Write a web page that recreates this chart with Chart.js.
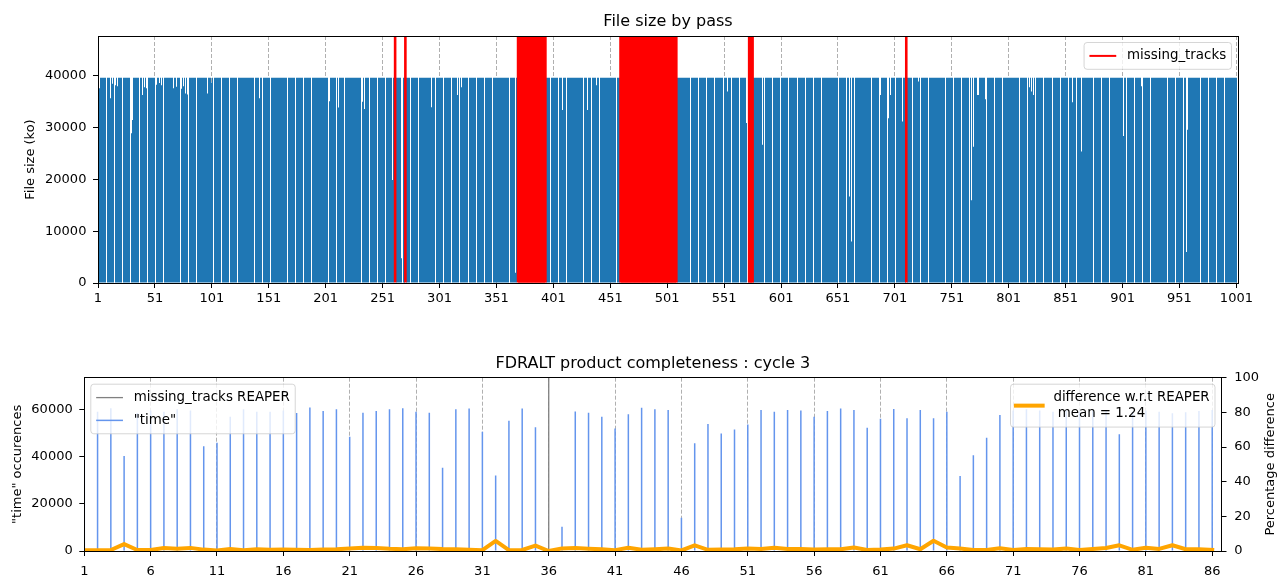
<!DOCTYPE html>
<html lang="en">
<head>
<meta charset="UTF-8">
<title>FDRALT file size and completeness</title>
<style>
    body { margin: 0; background: #fff; }
    #wrap { position: relative; width: 1287px; height: 577px; }
    canvas { position: absolute; left: 0; }
    #sizeChart { top: 0; }
    #compChart { top: 330px; }
</style>
</head>
<body>
<div id="wrap">
    <canvas id="sizeChart" width="1287" height="320"></canvas>
    <canvas id="compChart" width="1287" height="247"></canvas>
</div>

<script src="https://cdn.jsdelivr.net/npm/chart.js"></script>
<script>
// ---------- File size by pass ----------
const passCount = 1001;
const fullSize = 39650;           // ko, size of a complete pass file
const dipPasses = [2, 12, 14, 16, 18, 30, 31, 40, 42, 44, 52, 55, 57, 67, 70, 74, 76, 78, 80, 97,
    101, 143, 204, 212, 233, 235, 260, 268, 294, 317, 320, 368, 409, 431, 439, 554, 571, 585, 661, 663,
    688, 695, 697, 708, 722, 768, 770, 774, 781, 819, 821, 823, 857, 865, 902, 918, 957, 958];
const dipSizes = [37600, 35700, 38500, 38200, 38000, 28900, 31500, 36300, 37800, 37600, 38300, 38600, 38200, 37600, 37900, 37500, 38000, 36600, 36400, 36600,
    38700, 35700, 35100, 33900, 35000, 33600, 19900, 4800, 33950, 36300, 37800, 2000, 33400, 33400, 38200, 37000, 30900, 26700, 16700, 8000,
    36300, 31800, 36300, 31200, 38900, 16000, 26300, 36300, 35500, 37800, 37000, 36300, 34900, 25400, 28400, 38000, 6000, 29600];
const missingStart = [262, 271, 370, 460, 573, 711];
const missingEnd = [262, 271, 394, 509, 576, 711];
const passTicks = [1, 51, 101, 151, 201, 251, 301, 351, 401, 451, 501, 551, 601, 651, 701, 751, 801, 851, 901, 951, 1001];
const sizeTicks = [0, 10000, 20000, 30000, 40000];
const sizeMax = 47700;

// ---------- FDRALT completeness, cycle 3 ----------
const timeCounts = [
    59000, 59000, 60500, 40200, 58500, 59500, 59000, 60000, 59500, 44400,
    45800, 56900, 60000, 59000, 59000, 59500, 58500, 60800, 59300, 60000,
    48400, 58600, 59300, 60000, 60500, 59000, 58600, 35300, 60000, 60400,
    50500, 32000, 55200, 60400, 52400, 0, 10300, 59100, 58600, 56900,
    51900, 57900, 60700, 60000, 59700, 14100, 45600, 53800, 49800, 51500,
    53600, 59700, 59000, 59700, 59500, 56900, 59300, 60400, 59700, 52200,
    56000, 60100, 56200, 59700, 56200, 59000, 31800, 40600, 48000, 57600,
    59500, 60000, 59500, 59000, 59500, 59000, 59500, 59500, 49400, 59000,
    59500, 59000, 58300, 58800, 59300, 59700];
const percentDiff = [
    0.4, 0.5, 0.6, 4.0, 0.6, 0.6, 1.7, 1.3, 1.8, 0.8,
    0.3, 1.2, 0.5, 1.0, 0.7, 0.9, 0.7, 0.6, 0.9, 1.0,
    1.4, 1.9, 1.8, 1.3, 1.0, 1.6, 1.4, 1.1, 1.0, 0.7,
    0.5, 5.8, 0.5, 0.6, 3.1, 0.0, 1.5, 1.7, 1.3, 1.0,
    0.5, 1.9, 0.7, 1.0, 1.4, 0.3, 3.3, 0.7, 0.9, 1.0,
    1.4, 1.2, 1.9, 1.2, 1.1, 0.8, 1.0, 1.0, 2.0, 0.6,
    0.8, 1.4, 3.3, 1.0, 5.9, 2.0, 1.4, 0.6, 0.6, 1.6,
    0.6, 1.1, 1.0, 0.8, 1.4, 0.6, 1.2, 1.7, 3.3, 0.7,
    1.9, 1.2, 3.3, 1.0, 1.0, 0.6];
const cycles = timeCounts.map((v, i) => i + 1);
const reaperMissing = [36];
const cycleTicks = [1, 6, 11, 16, 21, 26, 31, 36, 41, 46, 51, 56, 61, 66, 71, 76, 81, 86];
const timeTicks = [0, 20000, 40000, 60000];
const diffTicks = [0, 20, 40, 60, 80, 100];
const timeMax = 73400;

Chart.defaults.font.family = "'DejaVu Sans', sans-serif";
Chart.defaults.font.size = 13;
Chart.defaults.color = '#000';

// one pixel per bar column, like a raster plot of 1000 thin bars
const snapBars = {
    id: 'snapBars',
    beforeDatasetsDraw(chart, args, opts) {
        const meta = chart.getDatasetMeta(opts.datasetIndex);
        meta.data.forEach(bar => {
            const l = Math.round(bar.x - bar.width / 2);
            const r = Math.round(bar.x + bar.width / 2);
            bar.x = (l + r) / 2;
            bar.width = r - l;
        });
    }
};

function drawLegendBox(chart, box) {
    const { ctx, chartArea: a } = chart;
    const fs = 13.4, pad = 0.4 * fs, handle = 2 * fs, textPad = 0.8 * fs, gap = 0.5 * fs, lineH = 1.2 * fs, axPad = 6.5;
    const items = box.items.map(it => {
        const ds = chart.data.datasets[it.index];
        return { lines: ds.label.split('\n'), color: ds.borderColor || ds.backgroundColor, width: it.width };
    });
    ctx.save();
    ctx.font = fs + "px 'DejaVu Sans'";
    let textW = 0, h = 2 * pad;
    items.forEach((it, i) => {
        it.lines.forEach(s => { textW = Math.max(textW, ctx.measureText(s).width); });
        h += it.lines.length * lineH + (i ? gap : 0);
    });
    const w = pad + handle + textPad + textW + pad;
    const x0 = box.align === 'left' ? a.left + axPad : a.right - axPad - w;
    const y0 = a.top + axPad;
    ctx.beginPath();
    ctx.roundRect(x0, y0, w, h, 3);
    ctx.fillStyle = 'rgba(255,255,255,0.8)';
    ctx.fill();
    ctx.strokeStyle = 'rgba(204,204,204,0.8)';
    ctx.lineWidth = 1;
    ctx.stroke();
    let y = y0 + pad;
    items.forEach(it => {
        const rowH = it.lines.length * lineH;
        const cy = y + rowH / 2;
        ctx.beginPath();
        ctx.moveTo(x0 + pad, cy);
        ctx.lineTo(x0 + pad + handle, cy);
        ctx.strokeStyle = it.color;
        ctx.lineWidth = it.width;
        ctx.lineCap = it.width > 2 ? 'square' : 'butt';
        ctx.stroke();
        ctx.fillStyle = '#000';
        ctx.textAlign = 'left';
        ctx.textBaseline = 'middle';
        it.lines.forEach((s, k) => ctx.fillText(s, x0 + pad + handle + textPad, y + lineH * (k + 0.5)));
        y += rowH + gap;
    });
    ctx.restore();
}

// axes frame (all four spines), legends and the right-hand axis title
const frameAndLegend = {
    id: 'frameAndLegend',
    afterDatasetsDraw(chart, args, opts) {
        const { ctx, chartArea: a } = chart;
        ctx.save();
        ctx.strokeStyle = '#000';
        ctx.lineWidth = 1;
        const l = Math.floor(a.left) + 0.5, t = Math.floor(a.top) + 0.5;
        const r = Math.floor(a.right) + 0.5, b = Math.floor(a.bottom) + 0.5;
        ctx.strokeRect(l, t, r - l, b - t);
        if (opts.rightTitle) {
            ctx.translate(chart.width - 16, (a.top + a.bottom) / 2);
            ctx.rotate(-Math.PI / 2);
            ctx.font = "13px 'DejaVu Sans'";
            ctx.fillStyle = '#000';
            ctx.textAlign = 'center';
            ctx.textBaseline = 'middle';
            ctx.fillText(opts.rightTitle, 0, 0);
        }
        ctx.restore();
        (opts.boxes || []).forEach(box => drawLegendBox(chart, box));
    }
};

const xGrid = { color: '#b0b0b0', lineWidth: 1, tickColor: '#000', tickLength: 5, tickWidth: 1, tickBorderDash: [], offset: false };
const yGrid = { drawOnChartArea: false, tickColor: '#000', tickLength: 5, tickWidth: 1 };
const setTicks = list => axis => { axis.ticks = list.map(v => ({ value: v })); };

// build the per-pass series
const sizeData = [];
const missingData = [];
for (let p = 1; p <= passCount; p++) {
    const missing = missingStart.some((s, k) => p >= s && p <= missingEnd[k]);
    const d = dipPasses.indexOf(p);
    sizeData.push({ x: p, y: missing ? null : (d >= 0 ? dipSizes[d] : fullSize) });
    if (missing) missingData.push({ x: p, y: sizeMax });
}

new Chart(document.getElementById('sizeChart'), {
    type: 'bar',
    data: {
        datasets: [{
            label: 'missing_tracks',
            data: missingData,
            backgroundColor: '#ff0000',
            borderColor: '#ff0000',
            barThickness: 2.6,
            inflateAmount: 0,
            grouped: false,
            order: 0
        }, {
            label: 'File size',
            data: sizeData,
            backgroundColor: '#1f77b4',
            barPercentage: 0.9,
            categoryPercentage: 1,
            inflateAmount: 0,
            grouped: false,
            order: 1
        }]
    },
    options: {
        responsive: false,
        animation: false,
        devicePixelRatio: 1,
        events: [],
        layout: { padding: { left: 0, right: 49, top: 0, bottom: 0 } },
        scales: {
            x: {
                type: 'linear', min: 1, max: 1002.4, offset: false,
                afterBuildTicks: setTicks(passTicks),
                afterFit: axis => { axis.height = 37; },
                grid: xGrid,
                border: { display: false, dash: [4, 2] },
                ticks: { autoSkip: false, maxRotation: 0, padding: 3, callback: v => String(v) }
            },
            y: {
                min: 0, max: sizeMax,
                afterBuildTicks: setTicks(sizeTicks),
                afterFit: axis => { axis.width = 98; },
                grid: yGrid,
                border: { display: false },
                ticks: { padding: 6.6, callback: v => String(v) },
                title: { display: true, text: 'File size (ko)', padding: { top: 23, bottom: 0 } }
            }
        },
        plugins: {
            legend: { display: false },
            tooltip: { enabled: false },
            title: {
                display: true, text: 'File size by pass', fullSize: false,
                font: { size: 16, weight: 'normal' }, color: '#000',
                padding: { top: 12, bottom: 4.8 }
            },
            snapBars: { datasetIndex: 1 },
            frameAndLegend: { boxes: [{ align: 'right', items: [{ index: 0, width: 2 }] }] }
        }
    },
    plugins: [snapBars, frameAndLegend]
});

new Chart(document.getElementById('compChart'), {
    type: 'bar',
    data: {
        datasets: [{
            type: 'line',
            label: 'difference w.r.t REAPER\n mean = 1.24',
            data: cycles.map((c, i) => ({ x: c, y: percentDiff[i] })),
            yAxisID: 'y1',
            borderColor: '#ffa500',
            borderWidth: 4,
            borderCapStyle: 'square',
            borderJoinStyle: 'round',
            pointRadius: 0,
            tension: 0,
            order: 0
        }, {
            type: 'line',
            label: 'missing_tracks REAPER',
            data: reaperMissing.flatMap(m => [{ x: m, y: 0 }, { x: m, y: timeMax }, { x: m, y: null }]),
            yAxisID: 'y',
            borderColor: '#808080',
            borderWidth: 1.3,
            pointRadius: 0,
            order: 1
        }, {
            label: '"time"',
            data: cycles.map((c, i) => ({ x: c, y: timeCounts[i] })),
            yAxisID: 'y',
            backgroundColor: '#6495ed',
            borderColor: '#6495ed',
            barThickness: 1.5,
            inflateAmount: 0,
            grouped: false,
            order: 2
        }]
    },
    options: {
        responsive: false,
        animation: false,
        devicePixelRatio: 1,
        events: [],
        layout: { padding: 0 },
        scales: {
            x: {
                type: 'linear', min: 1, max: 86.7, offset: false,
                afterBuildTicks: setTicks(cycleTicks),
                afterFit: axis => { axis.height = 26; },
                grid: xGrid,
                border: { display: false, dash: [4, 2] },
                ticks: { autoSkip: false, maxRotation: 0, padding: 7.5, callback: v => String(v) }
            },
            y: {
                position: 'left', min: 0, max: timeMax,
                afterBuildTicks: setTicks(timeTicks),
                afterFit: axis => { axis.width = 84.3; },
                grid: yGrid,
                border: { display: false },
                ticks: { padding: 6.6, callback: v => String(v) },
                title: { display: true, text: '"time" occurences', padding: { top: 9.7, bottom: 0 } }
            },
            y1: {
                position: 'right', min: 0, max: 100,
                afterBuildTicks: setTicks(diffTicks),
                afterFit: axis => { axis.width = 65.5; },
                grid: yGrid,
                border: { display: false },
                ticks: { padding: 7.8, callback: v => String(v) }
            }
        },
        plugins: {
            legend: { display: false },
            tooltip: { enabled: false },
            title: {
                display: true, text: 'FDRALT product completeness : cycle 3', fullSize: false,
                font: { size: 16, weight: 'normal' }, color: '#000',
                padding: { top: 24.1, bottom: 4.4 }
            },
            frameAndLegend: {
                rightTitle: 'Percentage difference',
                boxes: [
                    { align: 'left', items: [{ index: 1, width: 1.3 }, { index: 2, width: 1.5 }] },
                    { align: 'right', items: [{ index: 0, width: 4 }] }
                ]
            }
        }
    },
    plugins: [frameAndLegend]
});
</script>
</body>
</html>
